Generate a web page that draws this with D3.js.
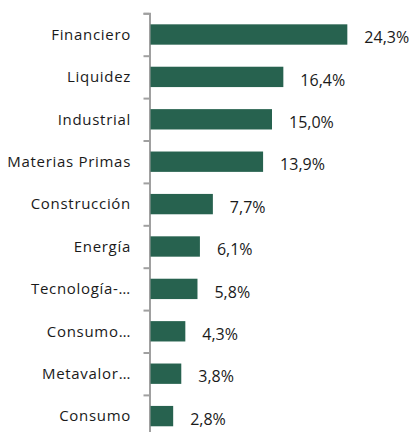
<!DOCTYPE html>
<html>
<head>
<meta charset="utf-8">
<script src="https://cdn.jsdelivr.net/npm/d3@7"></script>
<style>
  body { margin: 0; background: #fff; }
  svg { display: block; }
</style>
</head>
<body>
<div id="chart"></div>
<script>
// data
const categories = ["Financiero", "Liquidez", "Industrial", "Materias Primas", "Construcción",
                    "Energía", "Tecnología-…", "Consumo…", "Metavalor…", "Consumo"];
const values = [24.3, 16.4, 15.0, 13.9, 7.7, 6.1, 5.8, 4.3, 3.8, 2.8];
const valueLabels = ["24,3%", "16,4%", "15,0%", "13,9%", "7,7%", "6,1%", "5,8%", "4,3%", "3,8%", "2,8%"];

const data = categories.map((c, i) => ({cat: c, value: values[i], label: valueLabels[i]}));

const width = 412, height = 432;
const margin = {left: 149.5, top: 13.3, bottom: 437.3};
const barColor = "#27624f";
const textColor = "#1a1a1a";
const axisColor = "#a0a0a0";

const svg = d3.select("#chart")
  .append("svg")
  .attr("width", width)
  .attr("height", height);

// x scale
const x = d3.scaleLinear()
  .domain([0, 30])
  .range([margin.left + 1, margin.left + 1 + 30 * 8.1]);

// y band scale for the bars
const y = d3.scaleBand()
  .domain(categories)
  .range([margin.top, margin.bottom])
  .paddingInner(0.52)
  .paddingOuter(0.26);

// index scale so the ticks fall between the bars
const yIdx = d3.scaleLinear()
  .domain([0, categories.length])
  .range([margin.top, margin.bottom]);

// axis
const axis = svg.append("g")
  .attr("transform", `translate(${margin.left},0)`)
  .call(d3.axisLeft(yIdx)
    .ticks(categories.length)
    .tickSize(6)
    .tickFormat(""));
axis.select(".domain").attr("stroke", axisColor).attr("stroke-width", 2);
axis.selectAll(".tick line").attr("stroke", axisColor).attr("stroke-width", 2);

// bars
svg.append("g")
  .selectAll("rect")
  .data(data)
  .join("rect")
  .attr("x", x(0))
  .attr("y", d => y(d.cat))
  .attr("width", d => x(d.value) - x(0))
  .attr("height", y.bandwidth())
  .attr("fill", barColor);

// category labels
svg.append("g")
  .selectAll("text")
  .data(data)
  .join("text")
  .attr("x", 131)
  .attr("y", d => y(d.cat) + y.bandwidth() / 2)
  .attr("dy", "0.35em")
  .attr("text-anchor", "end")
  .style("font-family", "'Open Sans', sans-serif")
  .style("font-size", "15px")
  .style("letter-spacing", "0.7px")
  .style("fill", textColor)
  .text(d => d.cat);

// value labels
svg.append("g")
  .selectAll("text")
  .data(data)
  .join("text")
  .attr("x", d => x(d.value) + 17)
  .attr("y", d => y(d.cat) + y.bandwidth() / 2 + 3)
  .attr("dy", "0.35em")
  .style("font-family", "'Open Sans', sans-serif")
  .style("font-size", "16px")
  .style("fill", textColor)
  .text(d => d.label);
</script>
</body>
</html>
